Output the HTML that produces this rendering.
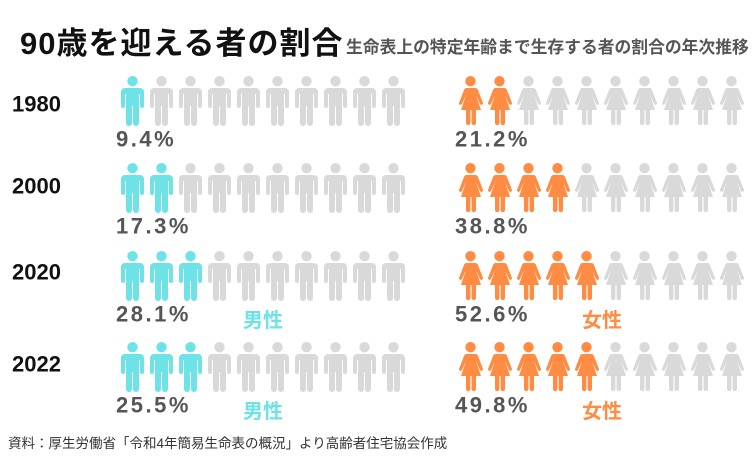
<!DOCTYPE html>
<html><head><meta charset="utf-8">
<style>
body{margin:0;width:756px;height:466px;background:#fff;position:relative;overflow:hidden;font-family:"Liberation Sans","Noto Sans CJK JP",sans-serif}
.t{position:absolute;white-space:nowrap}
</style></head>
<body>
<div class="t" style="left:20px;top:25px;font-size:31px;font-weight:bold;color:#111;line-height:38px;letter-spacing:1px">90歳を迎える者の割合</div>
<div class="t" style="left:346px;top:37px;font-size:16.8px;font-weight:bold;color:#555;line-height:22px">生命表上の特定年齢まで生存する者の割合の年次推移</div>
<svg id="chart" width="756" height="466" style="position:absolute;left:0;top:0"></svg>
<div class="t" style="left:8px;top:435px;font-size:13.5px;color:#333;line-height:18px">資料：厚生労働省「令和4年簡易生命表の概況」より高齢者住宅協会作成</div>
<script>
const years=["1980","2000","2020","2022"];
const malePct=[9.4,17.3,28.1,25.5];
const femalePct=[21.2,38.8,52.6,49.8];
const showLabel=[false,false,true,true];
const rowTop=[76,163,251,342];
const labelY=[104,186,272,364];
const svg=document.getElementById('chart');
const NS='http://www.w3.org/2000/svg';
function mk(t,a){const e=document.createElementNS(NS,t);for(const k in a)e.setAttribute(k,a[k]);return e;}
const maleD="M5,12 h15 a4,4 0 0 1 4,4 v14 a2,2 0 0 1 -4,0 v-12 h-1 v29 a3,3 0 0 1 -6,0 v-17 h-1 v17 a3,3 0 0 1 -6,0 v-29 h-1 v12 a2,2 0 0 1 -4,0 v-14 a4,4 0 0 1 4,-4 z";
const femD="M9,12 h8 a3,3 0 0 1 3,2 l5,13 a1.6,1.6 0 0 1 -3,1 l-4,-9 l5,15 h-5 v13 a2.2,2.2 0 0 1 -4.4,0 v-13 h-1.2 v13 a2.2,2.2 0 0 1 -4.4,0 v-13 h-5 l5,-15 l-4,9 a1.6,1.6 0 0 1 -3,-1 l5,-13 a3,3 0 0 1 3,-2 z";
function icon(x,y,female,on,nm){
  const g=mk('g',{transform:`translate(${x},${y})`,fill:on?(female?'#ff8c42':'#6de3e8'):'#d9d9d9'});
  
  
  g.appendChild(mk('circle',{cx:12.5,cy:5.2,r:5.2}));
  g.appendChild(mk('path',{d:female?femD:maleD}));
  svg.appendChild(g);
}
function txt(x,y,s,size,color,nm,ls){
  const t=mk('text',{x:x,y:y,'font-size':size,'font-weight':'bold',fill:color,'dominant-baseline':'central','letter-spacing':ls||0,'font-family':'"Liberation Sans","Noto Sans CJK JP",sans-serif'});
  t.textContent=s;
  
  
  svg.appendChild(t);
}
years.forEach((yr,r)=>{
  const top=rowTop[r];
  txt(12,labelY[r],yr,22,'#111','year-label');
  const mOn=Math.round(malePct[r]/10), fOn=Math.round(femalePct[r]/10);
  for(let i=0;i<10;i++){
    icon(120+i*29,top,false,i<mOn,'male-icon');
    icon(458+i*29,top,true,i<fOn,'female-icon');
  }
  txt(116,top+63,malePct[r].toFixed(1)+'%',22,'#555','male-percent',2.5);
  txt(455,top+63,femalePct[r].toFixed(1)+'%',22,'#555','female-percent',2.5);
  if(showLabel[r]){
    txt(243,top+70,'男性',20,'#6de3e8','male-label');
    txt(582,top+70,'女性',20,'#ff8c42','female-label');
  }
});
</script>
</body></html>
